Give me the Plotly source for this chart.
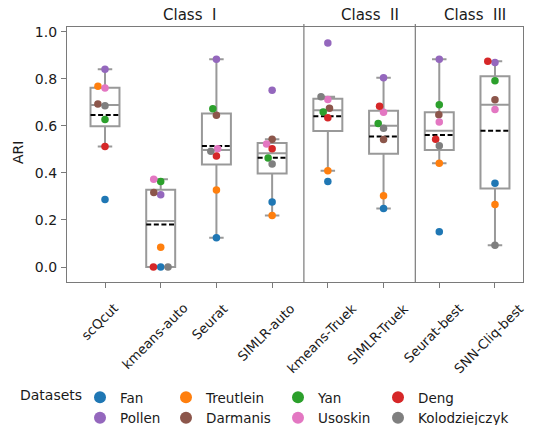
import numpy as np
import plotly.graph_objects as go

methods = ["scQcut", "kmeans-auto", "Seurat", "SIMLR-auto",
           "kmeans-Truek", "SIMLR-Truek", "Seurat-best", "SNN-Cliq-best"]
datasets = ["Fan", "Pollen", "Treutlein", "Darmanis", "Yan", "Usoskin", "Deng", "Kolodziejczyk"]
colors = ["#1f77b4", "#9467bd", "#ff7f0e", "#8c564b", "#2ca02c", "#e377c2", "#d62728", "#7f7f7f"]

# ARI per method, in dataset order
scqcut = [0.287, 0.841, 0.769, 0.693, 0.627, 0.761, 0.513, 0.686]
kmeans_auto = [0.000, 0.307, 0.084, 0.317, 0.364, 0.373, 0.000, 0.000]
seurat = [0.124, 0.884, 0.328, 0.646, 0.673, 0.503, 0.472, 0.492]
simlr_auto = [0.277, 0.752, 0.219, 0.543, 0.464, 0.523, 0.503, 0.438]
kmeans_truek = [0.364, 0.953, 0.410, 0.675, 0.659, 0.713, 0.635, 0.724]
simlr_truek = [0.249, 0.805, 0.303, 0.542, 0.611, 0.658, 0.684, 0.590]
seurat_best = [0.150, 0.884, 0.441, 0.648, 0.690, 0.617, 0.543, 0.516]
snn_cliq_best = [0.356, 0.870, 0.266, 0.711, 0.792, 0.670, 0.875, 0.093]
values = [scqcut, kmeans_auto, seurat, simlr_auto, kmeans_truek, simlr_truek, seurat_best, snn_cliq_best]

class_labels = ["Class\u00a0\u00a0I", "Class\u00a0\u00a0II", "Class\u00a0\u00a0III"]
class_centers = [1.51, 4.75, 6.64]
separators = [3.57, 5.57]

# layout geometry (pixels)
W, H = 539, 425
ML, MR, MT, MB = 67, 16, 27, 143
XR = [-0.682, 7.503]
YR = [-0.0638, 1.021]
PW, PH = W - ML - MR, H - MT - MB
px_x = PW / (XR[1] - XR[0])
px_y = PH / (YR[1] - YR[0])

BOXW = 0.52
GRAY = "#999999"
SPINE = "#7a7a7a"
TXT = "#1a1a1a"
FONT = "DejaVu Sans"


def px2paper_x(px):
    return (px - ML) / PW


def px2paper_y(py):
    return (H - MB - py) / PH


def beeswarm(vals, d=7.3):
    ys = np.asarray(vals) * px_y
    order = np.argsort(ys, kind="stable")
    xs = np.zeros(len(ys))
    placed = []
    for i in order:
        y = ys[i]
        neigh = [j for j in placed if abs(ys[j] - y) < d]
        cands = [0.0]
        for j in neigh:
            dx = np.sqrt(max(d * d - (ys[j] - y) ** 2, 0.0))
            cands += [xs[j] - dx, xs[j] + dx]
        cands = sorted(cands, key=lambda c: abs(c))
        for c in cands:
            if all((xs[j] - c) ** 2 + (ys[j] - y) ** 2 >= d * d - 1e-6 for j in neigh):
                xs[i] = c
                break
        placed.append(i)
    return xs / px_x


pos = list(range(len(methods)))
q1s, meds, q3s, lows, highs, means = [], [], [], [], [], []
for v in values:
    a = np.asarray(v)
    q1, md, q3 = np.percentile(a, [25, 50, 75])
    iqr = q3 - q1
    q1s.append(q1); meds.append(md); q3s.append(q3)
    lows.append(a[a >= q1 - 1.5 * iqr].min())
    highs.append(a[a <= q3 + 1.5 * iqr].max())
    means.append(a.mean())

fig = go.Figure()
fig.add_trace(go.Box(
    x=pos, q1=q1s, median=meds, q3=q3s, lowerfence=lows, upperfence=highs,
    width=BOXW, whiskerwidth=0.5, boxpoints=False,
    line=dict(color=GRAY, width=2), fillcolor="rgba(255,255,255,0)",
    showlegend=False, hoverinfo="skip"))

# mean lines
mx, my = [], []
for p, m in zip(pos, means):
    mx += [p - BOXW / 2, p + BOXW / 2, None]
    my += [m, m, None]
fig.add_trace(go.Scatter(x=mx, y=my, mode="lines",
                         line=dict(color="black", width=2, dash="5px,2.6px"),
                         showlegend=False, hoverinfo="skip"))

# swarm points
offsets = [beeswarm(v) for v in values]
for k, name in enumerate(datasets):
    xs = [p + offsets[p][k] for p in pos]
    ys = [values[p][k] for p in pos]
    fig.add_trace(go.Scatter(x=xs, y=ys, mode="markers", name=name,
                             marker=dict(color=colors[k], size=7.5),
                             showlegend=False))

# legend: 4 columns of 2 entries
legend_cols = [[0, 1], [2, 3], [4, 5], [6, 7]]
legend_marker_x = [100, 186, 298, 398]
legend_layout = {}
for c, (members, mxp) in enumerate(zip(legend_cols, legend_marker_x)):
    lname = "legend" if c == 0 else f"legend{c + 1}"
    for k in members:
        fig.add_trace(go.Scatter(x=[None], y=[None], mode="markers", name=datasets[k],
                                 marker=dict(color=colors[k], size=12), showlegend=True,
                                 legend=lname))
    legend_layout[lname] = dict(
        orientation="v", xref="container", yref="container",
        x=(mxp - 20) / W, y=1 - 382 / H, xanchor="left", yanchor="top",
        font=dict(family=FONT, size=13.5, color=TXT), itemwidth=30,
        bgcolor="rgba(0,0,0,0)", traceorder="normal")

shapes = []
for s in separators:
    shapes.append(dict(type="line", xref="x", yref="paper", x0=s, x1=s, y0=0, y1=1.012,
                       line=dict(color=SPINE, width=1.2)))

annotations = []
for c, t in zip(class_centers, class_labels):
    annotations.append(dict(x=c, y=px2paper_y(15), xref="x", yref="paper", text=t, showarrow=False,
                            xanchor="center", yanchor="middle",
                            font=dict(family=FONT, size=15, color=TXT)))
for p, m in zip(pos, methods):
    annotations.append(dict(x=p, y=0, xref="x", yref="paper", text=m, showarrow=False,
                            textangle=-45, xanchor="center", yanchor="top", yshift=-16, xshift=-6,
                            font=dict(family=FONT, size=13.2, color=TXT)))
annotations.append(dict(x=px2paper_x(18), y=px2paper_y(153), xref="paper", yref="paper",
                        text="ARI", showarrow=False, textangle=-90,
                        xanchor="center", yanchor="middle",
                        font=dict(family=FONT, size=14, color=TXT)))
annotations.append(dict(x=px2paper_x(18), y=px2paper_y(395), xref="paper", yref="paper",
                        text="Datasets", showarrow=False, xanchor="left", yanchor="middle",
                        font=dict(family=FONT, size=14, color=TXT)))

fig.update_layout(
    width=W, height=H,
    margin=dict(l=ML, r=MR, t=MT, b=MB, autoexpand=False),
    plot_bgcolor="white", paper_bgcolor="white",
    font=dict(family=FONT, size=13, color=TXT),
    shapes=shapes, annotations=annotations,
    xaxis=dict(range=XR, tickvals=pos, ticktext=[""] * len(pos), showgrid=False, zeroline=False,
               showline=True, linecolor=SPINE, linewidth=1.2, mirror=True, automargin=False,
               ticks="outside", ticklen=5, tickcolor=SPINE),
    yaxis=dict(range=YR, tickvals=[0, 0.2, 0.4, 0.6, 0.8, 1.0],
               ticktext=["0.0", "0.2", "0.4", "0.6", "0.8", "1.0"],
               showgrid=False, zeroline=False, automargin=False,
               showline=True, linecolor=SPINE, linewidth=1.2, mirror=True,
               ticks="outside", ticklen=5, tickcolor=SPINE, ticklabelstandoff=1,
               tickfont=dict(family=FONT, size=14, color=TXT)),
    **legend_layout,
)

fig.write_html("out.html", config={"displayModeBar": False},
               post_script="document.body.style.margin='0';document.body.style.padding='0';")
